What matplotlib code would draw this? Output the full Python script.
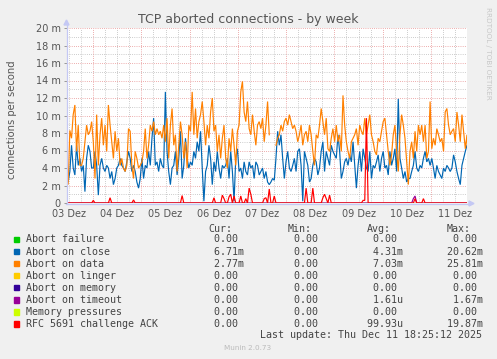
import matplotlib
matplotlib.use("Agg")
import matplotlib.pyplot as plt
from matplotlib.patches import Polygon, Rectangle
import numpy as np

# Canvas size in pixels (rrdtool style layout)
W, H = 497, 359

# Sample grid: one value every ~50 minutes, time measured in days since 03 Dez 00:00
T0 = 0.448
STEP = 50 / 1440.0
X_END = 8.747

# Abort on data (orange), in milli-connections/s
ABORT_DATA = [
    5.1, 2.1, 8.3, 7.4, 10.1, 11.2, 5.9, 8.9, 4.3, 4.3,
    5.1, 7.0, 8.9, 7.8, 8.2, 9.3, 7.0, 2.8, 10.1, 4.3,
    7.8, 9.7, 6.6, 8.9, 5.9, 11.2, 8.9, 7.0, 5.1, 8.2,
    5.9, 7.4, 4.3, 5.1, 4.0, 3.6, 4.3, 8.5, 8.2, 4.3,
    2.8, 5.9, 5.1, 4.0, 4.3, 4.7,
    5.9, 8.5, 5.1, 6.6, 8.9, 8.2, 9.3, 7.8, 8.5, 7.8,
    8.2, 7.4, 8.9, 7.0, 9.7, 5.1, 8.9, 10.8, 6.6, 7.8,
    3.6, 6.6, 9.3, 7.8, 5.1, 7.0, 4.0, 8.9, 8.2, 12.7,
    7.8, 10.8, 7.4, 9.3, 10.1, 11.6, 9.3, 6.6, 8.9, 7.4,
    10.4, 12.0, 8.2, 8.9, 5.9, 7.8, 5.1, 7.4,
    8.9, 5.1, 4.0, 7.4, 5.9, 8.5, 6.6, 4.3, 8.2, 8.9,
    12.7, 13.9, 10.4, 9.3, 11.6, 8.5, 7.8, 10.1, 8.2, 6.6,
    8.9, 9.3, 8.5, 9.7, 7.0, 8.9, 11.6, 7.8, np.nan, np.nan,
    np.nan, 6.6, 7.4, 7.8, 8.9, 8.2, 9.3, 9.7, 8.9, 10.1,
    9.3, 8.5, 8.9, 8.2, 7.0, 7.8, 8.9, 6.6,
    7.8, 8.2, 7.0, 8.9, 7.8, 5.9, 4.3, 7.8, 7.4, 8.9,
    10.8, 9.3, 7.8, 9.7, 6.2, 5.9, 7.4, 8.5, 7.0, 8.9,
    7.0, 7.8, 5.9, 12.3, 8.9, 7.0, 5.9, 5.1, 7.0, 7.4,
    7.8, 8.5, 6.6, 8.9, 8.2, 7.8, 9.7, 7.8, 8.9, 10.1,
    7.8, 7.0, 5.9, 5.5, 7.4, 7.0, 8.2, 9.3,
    9.7, 7.8, 5.9, 4.3, 5.5, 7.8, 8.9, 5.9, 3.6, 7.8,
    10.1, 8.9, 7.4, 4.7, 2.1, 5.9, 7.0, 5.1, 8.2, 5.9,
    8.9, 7.8, 8.9, 7.0, 8.9, 5.1, 5.9, 11.6, 6.2, 7.4,
    6.6, 8.5, 7.8, 7.0, 7.4, 5.9, 10.4, 10.8, 8.9, 7.8,
    8.2, 8.5, 7.0, 10.4, 8.9, 7.0, 10.1, 8.2, 6.2, 7.8, 3.0,
]

# Abort on close (blue)
ABORT_CLOSE = [
    4.3, 2.4, 3.6, 6.6, 4.0, 3.2, 6.6, 4.3, 5.1, 3.6,
    4.3, 1.3, 5.1, 6.6, 5.9, 4.0, 4.0, 5.9, 4.3, 0.9,
    4.3, 5.1, 4.0, 3.6, 4.3, 4.0, 2.8, 3.6, 2.1, 2.8,
    4.0, 4.3, 5.1, 4.3, 4.0, 3.6, 4.7, 5.9, 5.1, 3.6,
    4.3, 3.6, 2.4, 1.7, 2.8, 5.1,
    2.8, 4.3, 4.0, 5.9, 4.3, 7.4, 9.7, 4.3, 4.7, 3.6,
    5.1, 4.3, 4.0, 12.7, 5.9, 3.6, 2.1, 4.0, 4.3, 5.9,
    3.2, 5.1, 8.2, 2.8, 4.3, 7.4, 5.1, 4.0, 4.7, 4.3,
    5.9, 5.1, 7.0, 5.9, 8.2, 4.0, 0.2, 3.6, 4.3, 6.6,
    5.1, 2.1, 4.7, 3.6, 5.9, 4.0, 2.8, 4.3,
    4.0, 4.3, 5.1, 2.8, 5.9, 3.6, 0.2, 5.1, 6.2, 3.6,
    4.0, 2.8, 4.7, 3.6, 3.2, 4.7, 4.0, 4.3, 2.8, 4.7,
    4.3, 3.2, 3.6, 4.0, 2.8, 3.6, 2.4, 2.1, 2.4, 2.8,
    2.6, 5.1, 8.2, 6.6, 7.8, 5.1, 2.8, 4.7, 5.9, 4.0,
    3.6, 4.3, 5.1, 3.6, 5.9, 6.2, 4.3, 0.2,
    5.9, 5.1, 4.3, 2.4, 2.8, 4.3, 5.1, 4.7, 3.2, 4.0,
    5.9, 7.0, 3.6, 5.9, 5.1, 4.3, 6.6, 5.9, 5.5, 5.1,
    7.8, 5.9, 2.8, 3.6, 4.7, 5.1, 4.3, 5.5, 4.7, 7.0,
    4.3, 1.7, 4.3, 5.9, 3.6, 6.2, 5.1, 4.0, 3.6, 5.9,
    2.8, 4.3, 4.0, 4.7, 5.5, 3.6, 5.1, 5.9,
    4.0, 4.3, 3.2, 5.9, 4.3, 5.1, 6.2, 3.6, 11.9, 5.1,
    4.0, 2.8, 3.6, 2.4, 2.8, 2.8, 3.6, 4.3, 5.9, 4.0,
    3.6, 4.3, 4.0, 5.1, 5.9, 4.7, 5.1, 4.3, 5.1, 4.0,
    2.8, 4.3, 3.6, 3.2, 2.8, 4.0, 3.6, 4.3, 4.0, 3.6,
    4.0, 5.5, 4.7, 3.6, 2.8, 2.1, 4.3, 5.1, 5.9, 6.6, 6.7,
]

# RFC 5691 challenge ACK (red): sparse spikes, sample index -> value
RFC_SPIKE_AT = [16, 26, 40, 69, 88, 93, 94, 97, 98, 100, 104, 107, 109, 110,
                118, 119, 121, 124, 143, 147, 153, 154, 155, 157, 177, 178,
                179, 208, 213]
RFC_SPIKE_VAL = [0.3, 0.6, 0.35, 0.85, 0.6, 0.9, 0.5, 0.7, 1.0, 0.8, 0.8, 0.5,
                 1.7, 1.0, 0.5, 0.6, 1.6, 0.8, 1.7, 1.7, 0.6, 1.0, 0.5, 0.9,
                 0.3, 0.3, 9.7, 0.5, 0.5]

# Abort on timeout (purple)
TIMEOUT_SPIKE_AT = [207, 208]
TIMEOUT_SPIKE_VAL = [0.5, 0.8]

SERIES = ["Abort failure", "Abort on close", "Abort on data", "Abort on linger",
          "Abort on memory", "Abort on timeout", "Memory pressures",
          "RFC 5691 challenge ACK"]
COLORS = ["#00cc00", "#0066b3", "#ff8000", "#ffcc00",
          "#330099", "#990099", "#ccff00", "#ff0000"]

# Legend statistics (connections per second)
CUR = [0, 6.71e-3, 2.77e-3, 0, 0, 0, 0, 0]
MIN = [0, 0, 0, 0, 0, 0, 0, 0]
AVG = [0, 4.31e-3, 7.03e-3, 0, 0, 1.61e-6, 0, 99.93e-6]
MAX = [0, 20.62e-3, 25.81e-3, 0, 0, 1.67e-3, 0, 19.87e-3]

DAY_LABELS = ["03 Dez", "04 Dez", "05 Dez", "06 Dez", "07 Dez",
              "08 Dez", "09 Dez", "10 Dez", "11 Dez"]
Y_TICKS = [0, 2, 4, 6, 8, 10, 12, 14, 16, 18, 20]
LAST_UPDATE = "Last update: Thu Dec 11 18:25:12 2025"


def fx(px):
    return px / W


def fy(py):
    return 1 - py / H


def si(v):
    if v == 0:
        return f"{0:6.2f} "
    for fac, suf in [(1e-3, "m"), (1e-6, "u")]:
        if abs(v) >= fac:
            return f"{v / fac:6.2f}{suf}"
    return f"{v / 1e-9:6.2f}n"


n = len(ABORT_DATA)
t = T0 + np.arange(n) * STEP
zeros = np.zeros(n)
rfc = zeros.copy()
rfc[RFC_SPIKE_AT] = RFC_SPIKE_VAL
timeout = zeros.copy()
timeout[TIMEOUT_SPIKE_AT] = TIMEOUT_SPIKE_VAL
values = [zeros, np.array(ABORT_CLOSE), np.array(ABORT_DATA), zeros,
          zeros, timeout, zeros, rfc]

plt.rcParams["font.family"] = "DejaVu Sans"
fig = plt.figure(figsize=(W / 100, H / 100), dpi=100, facecolor="#f0f0f0")
ax = fig.add_axes([fx(66.5), fy(203), fx(400.5), 175 / H])
ax.set_facecolor("white")
ax.set_xlim(T0, X_END)
ax.set_ylim(0, 20)
for s in ax.spines.values():
    s.set_visible(False)

# grid: minor every 6h / 1m, major at midnight / every 2m
dots = (0, (0.72, 1.44))
for q in np.arange(0, 36):
    xg = q * 0.25
    if T0 < xg < X_END:
        major = q % 4 == 0
        ax.axvline(xg, color="#e89494" if major else "#bdbdbd",
                   lw=0.72, linestyle=dots, zorder=1 + major)
for yg in range(1, 21):
    major = yg % 2 == 0
    ax.axhline(yg, color="#e89494" if major else "#bdbdbd",
               lw=0.72, linestyle=dots, zorder=1 + major)

for name, col, vals in zip(SERIES, COLORS, values):
    ax.plot(t, vals, color=col, lw=0.85, zorder=3, solid_joinstyle="miter")

ax.set_yticks(Y_TICKS)
ax.set_yticklabels(["0"] + [f"{v} m" for v in Y_TICKS[1:]])
ax.set_xticks(np.arange(len(DAY_LABELS)) + 0.5)
ax.set_xticklabels(DAY_LABELS)
ax.tick_params(axis="both", labelsize=7, labelcolor="#555555", color="#999999",
               length=2, width=0.7, pad=2)
ax.tick_params(axis="x", length=0, pad=4)

# axes with arrows
axis_col = "#c4c8f4"
fig.add_artist(plt.Line2D([fx(66.5), fx(66.5)], [fy(203.5), fy(24)],
                          color=axis_col, lw=0.9))
fig.add_artist(Polygon([[fx(64), fy(25)], [fx(69), fy(25)], [fx(66.5), fy(20)]],
                       closed=True, color=axis_col))
fig.add_artist(plt.Line2D([fx(66), fx(470)], [fy(203.5), fy(203.5)],
                          color=axis_col, lw=0.9, zorder=0))
fig.add_artist(Polygon([[fx(469), fy(201)], [fx(469), fy(206)], [fx(474), fy(203.5)]],
                       closed=True, color=axis_col))

fig.text(fx(248.5), fy(19), "TCP aborted connections - by week", ha="center",
         va="center", fontsize=9, color="#555555")
fig.text(fx(12), fy(120), "connections per second", rotation=90, ha="center",
         va="center", fontsize=7.2, color="#555555")
fig.text(fx(488), fy(53), "RRDTOOL / TOBI OETIKER", rotation=270, ha="center",
         va="center", fontsize=5.2, color="#c8c8c8")

# legend block
mono = "DejaVu Sans Mono"
lc = "#444444"
for head, xh in zip(["Cur:", "Min:", "Avg:", "Max:"], [208, 288, 367, 447]):
    fig.text(fx(xh), fy(228.5), head, family=mono, fontsize=7.2, color=lc,
             va="center")
for i, name in enumerate(SERIES):
    yr = 239.5 + 12.07 * i
    fig.add_artist(Rectangle((fx(14), fy(yr + 2.7)), 5.4 / W, 5.4 / H,
                             color=COLORS[i]))
    fig.text(fx(26), fy(yr), name, family=mono, fontsize=7.2, color=lc, va="center")
    for stat, xc in zip([CUR, MIN, AVG, MAX], [202, 282, 361, 441]):
        fig.text(fx(xc), fy(yr), si(stat[i]), family=mono, fontsize=7.2,
                 color=lc, va="center")
fig.text(fx(482), fy(335.5), LAST_UPDATE, family=mono, fontsize=7.2, color=lc,
         va="center", ha="right")
fig.text(fx(248), fy(348), "Munin 2.0.73", fontsize=5.2, color="#bbbbbb",
         ha="center", va="center")

fig.savefig("out.png", dpi=100, facecolor=fig.get_facecolor())
